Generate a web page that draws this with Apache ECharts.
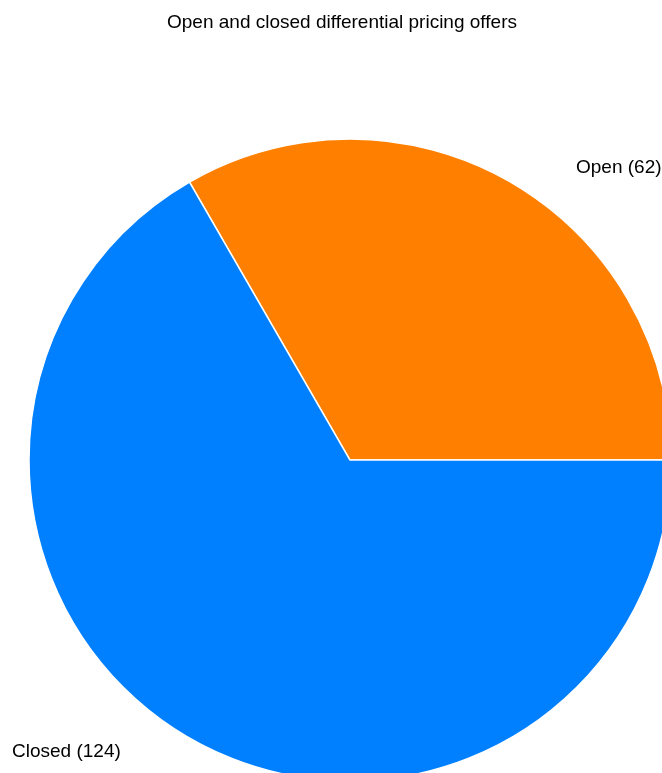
<!DOCTYPE html>
<html>
<head>
<meta charset="utf-8">
<script src="https://cdn.jsdelivr.net/npm/echarts@6/dist/echarts.min.js"></script>
<style>
html,body{margin:0;padding:0;background:#fff;}
#chart{width:662px;height:773px;}
</style>
</head>
<body>
<div id="chart"></div>
<script>
const categories = ["Open", "Closed"];
const values = [62, 124];
const colors = ["#ff8000", "#0080ff"];
const titleText = "Open and closed differential pricing offers";

const chart = echarts.init(document.getElementById('chart'), null, {renderer: 'canvas'});
const labelPos = {
  "Open": {x: 576, y: 168},
  "Closed": {x: 12, y: 752}
};
chart.setOption({
  animation: false,
  backgroundColor: '#ffffff',
  title: {
    text: titleText,
    left: 162,
    top: 8,
    textStyle: {fontFamily: 'Liberation Sans', fontSize: 19, fontWeight: 'normal', color: '#000'}
  },
  series: [{
    type: 'pie',
    center: [350, 460],
    radius: 321,
    startAngle: 120,
    clockwise: true,
    data: categories.map((c, i) => ({name: c, value: values[i], itemStyle: {color: colors[i]}})),
    itemStyle: {borderColor: '#ffffff', borderWidth: 1.5},
    label: {
      show: true,
      position: 'outside',
      formatter: p => p.name + ' (' + p.value + ')',
      fontFamily: 'Liberation Sans',
      fontSize: 19,
      color: '#000'
    },
    labelLine: {show: false},
    labelLayout: function (params) {
      const name = categories[params.dataIndex];
      const p = labelPos[name];
      return {x: p.x, y: p.y, align: 'left', verticalAlign: 'middle'};
    },
    emphasis: {disabled: true}
  }]
});
</script>
</body>
</html>
